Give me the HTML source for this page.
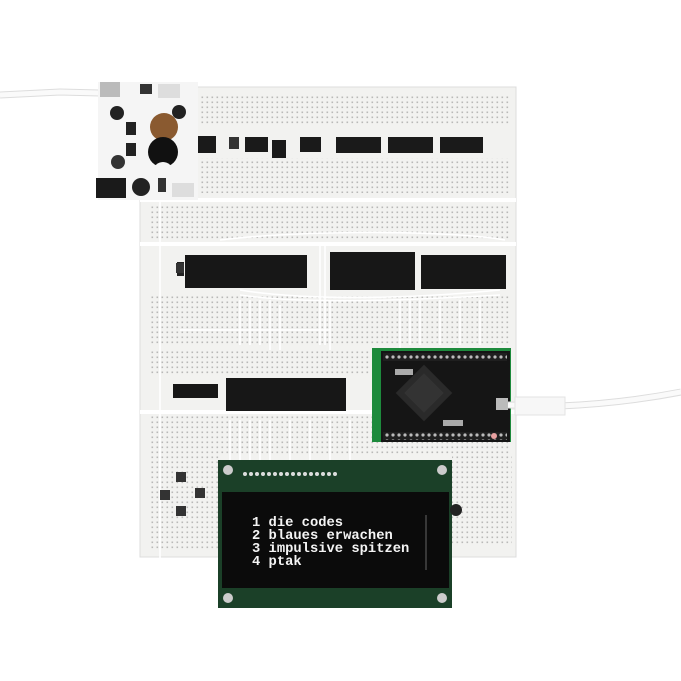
<!DOCTYPE html>
<html><head><style>
html,body{margin:0;padding:0;background:#fff;}
svg{display:block}
</style></head><body>
<svg width="681" height="681" viewBox="0 0 681 681" xmlns="http://www.w3.org/2000/svg">
<defs>
<pattern id="dots" width="5" height="5" patternUnits="userSpaceOnUse">
<rect x="1.5" y="1.5" width="1.6" height="1.6" fill="#8a8a8a"/>
</pattern>
<pattern id="gpins" width="6" height="6" patternUnits="userSpaceOnUse">
<rect width="6" height="6" fill="#1f1f1f"/><circle cx="3" cy="3" r="1.6" fill="#bbb"/>
</pattern>
</defs>
<rect width="681" height="681" fill="#fff"/>
<path d="M0 95 L60 92 L100 93" stroke="#ddd" stroke-width="7" fill="none"/>
<path d="M0 95 L60 92 L100 93" stroke="#fafafa" stroke-width="5" fill="none"/>
<rect x="140" y="87" width="376" height="470" fill="#f2f2f0"/>
<rect x="140" y="87" width="376" height="470" fill="none" stroke="#ddd"/>
<g opacity="0.55">
<rect x="200" y="95" width="310" height="30" fill="url(#dots)"/>
<rect x="200" y="158" width="310" height="35" fill="url(#dots)"/>
<rect x="150" y="205" width="360" height="35" fill="url(#dots)"/>
<rect x="150" y="295" width="360" height="50" fill="url(#dots)"/>
<rect x="150" y="350" width="220" height="25" fill="url(#dots)"/>
<rect x="150" y="415" width="360" height="40" fill="url(#dots)"/>
<rect x="150" y="455" width="70" height="95" fill="url(#dots)"/>
<rect x="452" y="455" width="60" height="90" fill="url(#dots)"/>
</g>
<g stroke="#fff" stroke-width="4">
<line x1="140" y1="200" x2="516" y2="200"/>
<line x1="140" y1="244" x2="516" y2="244"/>
<line x1="140" y1="412" x2="516" y2="412"/>
</g>
<g stroke="#fff" stroke-width="1.6" fill="none">
<path d="M220 240 C300 230 450 230 505 240"/>
<path d="M240 290 C300 300 400 300 500 290"/>
<path d="M240 295 C310 305 410 300 500 295"/>
<path d="M320 245 L320 345"/><path d="M325 245 L325 345"/><path d="M330 300 L330 350"/>
<path d="M240 300 L240 345"/><path d="M250 300 L250 345"/><path d="M260 300 L260 345"/>
<path d="M270 300 L270 350"/><path d="M280 305 L280 350"/>
<path d="M400 300 L400 350"/><path d="M410 300 L410 345"/><path d="M420 300 L420 345"/>
<path d="M440 300 L440 345"/><path d="M460 300 L460 345"/><path d="M480 300 L480 345"/>
<path d="M230 420 L230 460"/><path d="M240 420 L240 460"/><path d="M250 420 L250 460"/>
<path d="M260 420 L260 460"/><path d="M270 420 L270 460"/><path d="M290 420 L290 460"/>
<path d="M310 420 L310 460"/><path d="M330 420 L330 460"/><path d="M350 420 L350 460"/>
<path d="M160 200 L160 560"/><path d="M180 330 L330 330"/>
</g>
<g fill="#1a1a1a">
<rect x="193" y="136" width="23" height="17"/>
<rect x="245" y="137" width="23" height="15"/>
<rect x="300" y="137" width="21" height="15"/>
<rect x="336" y="137" width="45" height="16"/>
<rect x="388" y="137" width="45" height="16"/>
<rect x="440" y="137" width="43" height="16"/>
<rect x="272" y="140" width="14" height="18"/>
<rect x="229" y="137" width="10" height="12" fill="#333"/>
</g>
<rect x="98" y="82" width="100" height="118" fill="#f5f5f5"/>
<rect x="100" y="82" width="20" height="15" fill="#bbb"/>
<rect x="140" y="84" width="12" height="10" fill="#333"/>
<rect x="158" y="84" width="22" height="14" fill="#ddd"/>
<circle cx="117" cy="113" r="7" fill="#222"/>
<circle cx="179" cy="112" r="7" fill="#222"/>
<rect x="126" y="122" width="10" height="13" fill="#222"/>
<rect x="126" y="143" width="10" height="13" fill="#222"/>
<circle cx="164" cy="127" r="14" fill="#8a5a30"/>
<circle cx="163" cy="152" r="15" fill="#111"/>
<circle cx="163" cy="172" r="10" fill="#f5f5f5"/>
<circle cx="118" cy="162" r="7" fill="#333"/>
<rect x="96" y="178" width="30" height="20" fill="#1a1a1a"/>
<circle cx="141" cy="187" r="9" fill="#222"/>
<rect x="158" y="178" width="8" height="14" fill="#333"/>
<rect x="172" y="183" width="22" height="14" fill="#ddd"/>
<g fill="#171717">
<rect x="185" y="255" width="122" height="33"/>
<rect x="330" y="252" width="85" height="38"/>
<rect x="421" y="255" width="85" height="34"/>
<rect x="226" y="378" width="120" height="33"/>
<rect x="173" y="384" width="45" height="14"/>
</g>
<rect x="177" y="262" width="7" height="14" fill="#222"/>
<rect x="372" y="348" width="139" height="94" fill="#1d8a3c"/>
<rect x="381" y="351" width="129" height="91" fill="#151515"/>
<rect x="383" y="353" width="124" height="8" fill="url(#gpins)"/>
<rect x="383" y="432" width="124" height="8" fill="url(#gpins)"/>
<rect x="404" y="373" width="40" height="40" fill="#2a2a2a" transform="rotate(45 424 393)"/>
<rect x="410" y="379" width="28" height="28" fill="#333" transform="rotate(45 424 393)"/>
<rect x="395" y="369" width="18" height="6" fill="#aaa"/>
<rect x="443" y="420" width="20" height="6" fill="#aaa"/>
<rect x="496" y="398" width="12" height="12" fill="#bbb"/>
<circle cx="494" cy="436" r="3" fill="#e8a0a0"/>
<path d="M508 405 L560 406 C610 404 650 398 681 392" stroke="#ddd" stroke-width="7" fill="none"/>
<path d="M508 405 L560 406 C610 404 650 398 681 392" stroke="#fafafa" stroke-width="5" fill="none"/>
<rect x="515" y="397" width="50" height="18" fill="#f7f7f7" stroke="#e3e3e3"/>
<rect x="176" y="263" width="8" height="10" fill="#333"/>
<rect x="176" y="472" width="10" height="10" fill="#333"/>
<rect x="160" y="490" width="10" height="10" fill="#333"/>
<rect x="195" y="488" width="10" height="10" fill="#333"/>
<rect x="176" y="506" width="10" height="10" fill="#333"/>
<rect x="218" y="460" width="234" height="148" fill="#1b4028"/>
<circle cx="228" cy="470" r="5" fill="#ccc"/><circle cx="442" cy="470" r="5" fill="#ccc"/>
<circle cx="228" cy="598" r="5" fill="#ccc"/><circle cx="442" cy="598" r="5" fill="#ccc"/>
<g fill="#ddd">
<circle cx="245" cy="474" r="2"/><circle cx="251" cy="474" r="2"/><circle cx="257" cy="474" r="2"/><circle cx="263" cy="474" r="2"/><circle cx="269" cy="474" r="2"/><circle cx="275" cy="474" r="2"/><circle cx="281" cy="474" r="2"/><circle cx="287" cy="474" r="2"/><circle cx="293" cy="474" r="2"/><circle cx="299" cy="474" r="2"/><circle cx="305" cy="474" r="2"/><circle cx="311" cy="474" r="2"/><circle cx="317" cy="474" r="2"/><circle cx="323" cy="474" r="2"/><circle cx="329" cy="474" r="2"/><circle cx="335" cy="474" r="2"/>
</g>
<rect x="222" y="492" width="227" height="96" fill="#0b0b0b"/>
<line x1="426" y1="515" x2="426" y2="570" stroke="#666" stroke-width="1"/>
<g font-family="'Liberation Mono', monospace" font-size="13.8" font-weight="bold" fill="#f4f4f4">
<text x="252" y="526">1 die codes</text>
<text x="252" y="539">2 blaues erwachen</text>
<text x="252" y="552">3 impulsive spitzen</text>
<text x="252" y="565">4 ptak</text>
</g>
<circle cx="456" cy="510" r="6" fill="#222"/>
</svg>
</body></html>
